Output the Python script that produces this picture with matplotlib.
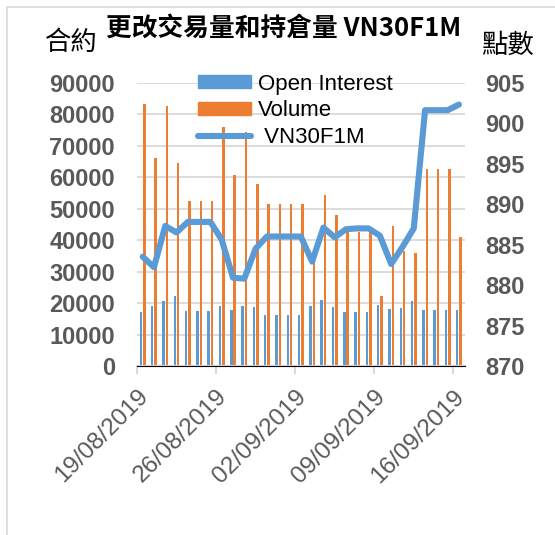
import numpy as np
import pandas as pd
import matplotlib
matplotlib.use('Agg')
import matplotlib.pyplot as plt
import matplotlib.dates as mdates
import matplotlib.transforms as mtransforms
from matplotlib.patches import Rectangle, Patch
from matplotlib.lines import Line2D

# daily values 19/08/2019 .. 16/09/2019 (weekends carried forward)
start_date = '2019-08-19'
end_date = '2019-09-16'
tick_labels = ['19/08/2019', '26/08/2019', '02/09/2019', '09/09/2019', '16/09/2019']

open_interest = [17000, 19000, 20500, 22100, 17600, 17600, 17600, 19000, 17800, 19100,
                 18700, 16200, 16200, 16200, 16200, 19100, 21000, 18700, 17300, 17300,
                 17300, 19400, 18000, 18300, 20700, 17900, 17900, 17900, 17900]
volume = [83200, 66200, 82600, 64600, 52400, 52400, 52400, 76000, 60700, 74200,
          57700, 51600, 51600, 51600, 51600, 33500, 54300, 48000, 42500, 42500,
          42500, 22200, 44500, 36500, 35800, 62600, 62600, 62600, 41100]
vn30f1m = [883.5, 882.2, 887.3, 886.5, 887.8, 887.8, 887.8, 885.6, 880.9, 880.8,
           884.5, 886.0, 886.0, 886.0, 886.0, 882.9, 887.1, 885.9, 886.9, 887.0,
           887.0, 886.1, 882.6, 884.7, 887.0, 901.6, 901.6, 901.6, 902.3]

dates = pd.date_range(start_date, end_date, freq='D')
x = mdates.date2num(dates) + 0.5  # bars centred inside each day

BLUE = '#5B9BD5'
ORANGE = '#ED7D31'
GREY = '#595959'
GRID = '#D9D9D9'

plt.rcParams['font.family'] = ['Liberation Sans', 'DejaVu Sans']
CJK = ['Noto Sans CJK TC', 'DejaVu Sans']

fig = plt.figure(figsize=(5.55, 5.35), dpi=100)
fig.patch.set_facecolor('white')

# outer chart border (only top and left visible)
fig.add_artist(Rectangle((7 / 555, -0.1), 2, (1 - 7 / 535) + 0.1, transform=fig.transFigure,
                         fill=False, edgecolor=GRID, linewidth=1.2))

ax = fig.add_axes([137 / 555, 1 - 366 / 535, (464.6 - 137) / 555, (366 - 82.7) / 535])
ax2 = ax.twinx()

w = 0.22
ax.bar(x - 0.15, open_interest, width=w, color=BLUE, zorder=2)
ax.bar(x + 0.15, volume, width=w, color=ORANGE, zorder=2)
ax2.plot(x, vn30f1m, color=BLUE, linewidth=4.4, solid_joinstyle='round',
         solid_capstyle='round', zorder=3)

ax.set_ylim(0, 90000)
ax.set_yticks(np.arange(0, 90001, 10000))
ax2.set_ylim(870, 905)
ax2.set_yticks(np.arange(870, 906, 5))

x0 = mdates.date2num(dates[0])
ax.set_xlim(x0, x0 + len(dates))
ticks = [x0 + 7 * i for i in range(len(tick_labels))]
ax.set_xticks(ticks)
ax.set_xticklabels(tick_labels, rotation=45, ha='right', va='top',
                   rotation_mode='anchor', fontsize=17.5, color=GREY)
shift = mtransforms.ScaledTranslation(10 / 100, 0, fig.dpi_scale_trans)
for lab in ax.get_xticklabels():
    lab.set_transform(lab.get_transform() + shift)

ax.grid(axis='y', color=GRID, linewidth=1.3, zorder=0)
ax.set_axisbelow(True)
for a in (ax, ax2):
    for s in ('left', 'right', 'top'):
        a.spines[s].set_visible(False)
ax.spines['bottom'].set_color(GRID)
ax.spines['bottom'].set_linewidth(1.5)
ax.tick_params(axis='x', length=6, width=1.5, color=GRID, pad=8)
ax.tick_params(axis='y', length=0, pad=16, labelsize=17, labelcolor=GREY)
ax2.tick_params(axis='y', length=0, pad=15, labelsize=17, labelcolor=GREY)
for lab in ax.get_yticklabels() + ax2.get_yticklabels():
    lab.set_fontweight('bold')

handles = [Patch(color=BLUE), Patch(color=ORANGE),
           Line2D([0], [0], color=BLUE, linewidth=4.4, solid_capstyle='round')]
leg = ax.legend(handles, ['Open Interest', 'Volume', ' VN30F1M'], loc='upper left',
                bbox_to_anchor=(0.185, 1.032), frameon=False, fontsize=16,
                handlelength=2.4, handleheight=0.55, labelspacing=0.26,
                handletextpad=0.3, borderaxespad=0, borderpad=0)
leg.set_zorder(5)

fig.text(284 / 555, 1 - 28 / 535, '更改交易量和持倉量 VN30F1M', family=CJK,
         fontsize=18.5, fontweight='bold', ha='center', va='center')
fig.text(71 / 555, 1 - 42 / 535, '合約', family=CJK, fontsize=19,
         fontweight='light', ha='center', va='center')
fig.text(507 / 555, 1 - 45 / 535, '點數', family=CJK, fontsize=19,
         fontweight='light', ha='center', va='center')

fig.savefig('out.png', dpi=100, facecolor='white')
